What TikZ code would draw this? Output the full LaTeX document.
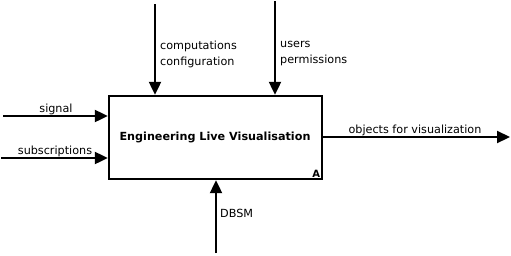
\documentclass[tikz,border=0pt]{standalone}
\usepackage{fontspec}
\setmainfont{DejaVu Sans}
\usetikzlibrary{arrows.meta}
\begin{document}
\begin{tikzpicture}[x=1pt,y=-1pt,
  flow/.style={line width=2.2pt,-{Triangle[length=13pt,width=12pt]}},
  lbl/.style={font=\fontsize{11.2}{16}\selectfont,inner sep=0pt},
  func/.style={draw,line width=2.4pt,minimum width=213pt,minimum height=83pt,inner sep=0pt}]
\useasboundingbox (0,0) rectangle (511,255);
% function box
\node[func] (box) at (215.5,137.5) {};
\node[font=\fontsize{11.2}{13}\selectfont\bfseries] (title) at (215,137) {Engineering Live Visualisation};
\node[font=\fontsize{10}{11}\selectfont\bfseries,anchor=south east,inner sep=3pt] (tag) at (box.south east) {A};
% inputs
\coordinate (sigin) at (3,116);
\coordinate (subin) at (1,158);
\draw[flow] (sigin) -- (sigin -| box.west);
\draw[flow] (subin) -- (subin -| box.west);
\node[lbl] (sigl) at (56,109) {signal};
\node[lbl] (subl) at (55,151) {subscriptions};
% controls
\coordinate (c1) at (155,4);
\coordinate (c2) at (275,1);
\draw[flow] (c1) -- (c1 |- box.north);
\draw[flow] (c2) -- (c2 |- box.north);
\node[lbl,anchor=west,align=left] (c1l) at (160,54) {computations\\configuration};
\node[lbl,anchor=west,align=left] (c2l) at (280,53.5) {users\\permissions};
% output
\coordinate (outend) at (510,137);
\draw[flow] (box.east |- outend) -- (outend);
\node[lbl] (outl) at (415,130) {objects for visualization};
% mechanism
\coordinate (m1) at (216,253);
\draw[flow] (m1) -- (m1 |- box.south);
\node[lbl,anchor=west] (m1l) at (220,213) {DBSM};
\end{tikzpicture}
\end{document}
